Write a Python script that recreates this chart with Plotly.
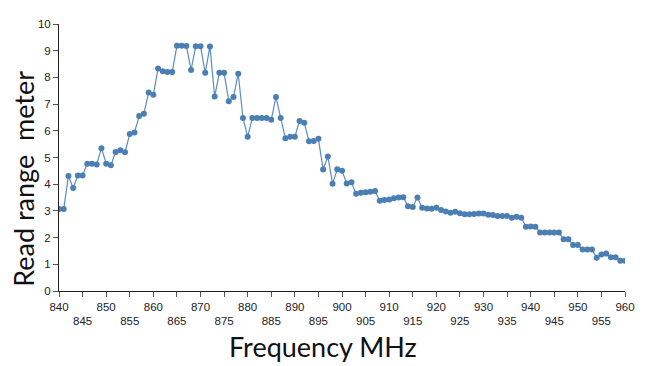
import plotly.graph_objects as go

freq = list(range(840, 961))
read_range = [
    3.07, 3.07, 4.31, 3.86, 4.33, 4.33, 4.77, 4.77, 4.74, 5.35,
    4.77, 4.71, 5.21, 5.27, 5.20, 5.88, 5.94, 6.55, 6.64, 7.43,
    7.35, 8.33, 8.23, 8.20, 8.20, 9.19, 9.19, 9.18, 8.28, 9.17,
    9.17, 8.17, 9.16, 7.28, 8.17, 8.17, 7.11, 7.27, 8.14, 6.48,
    5.78, 6.48, 6.48, 6.48, 6.48, 6.41, 7.27, 6.48, 5.72, 5.78,
    5.78, 6.37, 6.30, 5.61, 5.62, 5.70, 4.55, 5.04, 4.02, 4.56,
    4.50, 4.03, 4.07, 3.64, 3.68, 3.70, 3.72, 3.75, 3.38, 3.41,
    3.43, 3.47, 3.50, 3.51, 3.17, 3.15, 3.50, 3.12, 3.09, 3.08,
    3.12, 3.03, 2.98, 2.93, 2.97, 2.91, 2.87, 2.87, 2.88, 2.90,
    2.90, 2.86, 2.85, 2.81, 2.81, 2.81, 2.74, 2.78, 2.74, 2.41,
    2.42, 2.41, 2.19, 2.19, 2.19, 2.19, 2.19, 1.94, 1.94, 1.72,
    1.72, 1.55, 1.55, 1.55, 1.25, 1.37, 1.40, 1.26, 1.26, 1.13,
    1.13,
]

tick_all = list(range(840, 961, 5))
tick_row1 = list(range(840, 961, 10))
tick_row2 = list(range(845, 960, 10))
y_ticks = list(range(0, 11))

tick_font = dict(family="Liberation Sans Narrow, Liberation Sans, Arial", size=11.5, color="#222")
title_font = dict(family="Lato, Open Sans, sans-serif", size=27, color="#111")

fig = go.Figure()
fig.add_trace(go.Scatter(
    x=freq, y=read_range, mode="lines+markers",
    line=dict(color="#5b8dbf", width=1.2),
    marker=dict(color="#4b7fb4", size=6),
    showlegend=False,
))
# empty trace on second x-axis that carries the staggered second row of labels
fig.add_trace(go.Scatter(x=[freq[0], freq[-1]], y=[None, None], xaxis="x2",
                         showlegend=False, hoverinfo="skip"))

fig.update_layout(
    width=639, height=358,
    margin=dict(l=51, r=22, t=10, b=75),
    plot_bgcolor="white", paper_bgcolor="white",
    xaxis=dict(
        range=[840, 960], tickvals=tick_all,
        ticktext=[str(v) if v in tick_row1 else "" for v in tick_all],
        ticks="outside", ticklen=5, tickcolor="#555",
        showline=True, linecolor="#222", linewidth=1,
        showgrid=False, zeroline=False, tickfont=tick_font,
    ),
    xaxis2=dict(
        range=[840, 960], overlaying="x", side="bottom", anchor="y",
        tickvals=tick_row2, ticktext=[str(v) for v in tick_row2],
        ticks="", showline=False, showgrid=False, zeroline=False,
        ticklabelstandoff=21, tickfont=tick_font,
    ),
    yaxis=dict(
        range=[0, 10], tickvals=y_ticks,
        ticks="outside", ticklen=5, tickcolor="#555",
        showline=True, linecolor="#222", linewidth=1,
        showgrid=False, zeroline=False, tickfont=tick_font,
    ),
    annotations=[
        dict(text="Read range  meter", textangle=-90, xref="paper", yref="paper",
             x=-0.062, y=0.42, xanchor="center", yanchor="middle",
             showarrow=False, font=title_font),
        dict(text="Frequency MHz", xref="paper", yref="paper",
             x=0.467, y=-0.209, xanchor="center", yanchor="middle",
             showarrow=False, font=title_font),
    ],
)

fig.write_html("out.html")
